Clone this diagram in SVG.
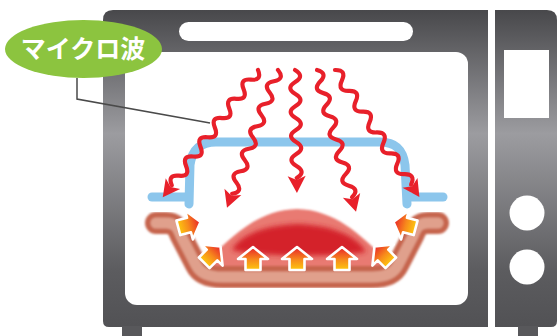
<svg xmlns="http://www.w3.org/2000/svg" xmlns:xlink="http://www.w3.org/1999/xlink" width="558" height="336" viewBox="0 0 558 336">
  <style>
    .body { fill: url(#metal); }
    .wave { fill: none; stroke: #e8202a; stroke-width: 4.2; stroke-linecap: round; stroke-linejoin: round; }
    .head { fill: #e8202a; }
    .lid { fill: none; stroke: #8cc6ec; stroke-width: 9; stroke-linecap: round; stroke-linejoin: round; }
    .heat { fill: url(#heatGrad); stroke: #fff; stroke-width: 2.6; stroke-linejoin: round; }
    .label { font-family: "Noto Sans CJK JP", "Noto Sans", sans-serif; font-size: 25px; font-weight: bold; fill: #fff; }
  </style>
  <defs>
    <linearGradient id="metal" gradientUnits="userSpaceOnUse" x1="0" y1="10" x2="0" y2="336">
      <stop offset="0" stop-color="#48484b"/>
      <stop offset="0.38" stop-color="#9c9ca0"/>
      <stop offset="0.8" stop-color="#5c5c5f"/>
      <stop offset="1" stop-color="#505053"/>
    </linearGradient>
    <linearGradient id="heatGrad" x1="0" y1="1" x2="0" y2="0">
      <stop offset="0" stop-color="#fdc80f"/>
      <stop offset="0.45" stop-color="#f7891c"/>
      <stop offset="1" stop-color="#e8202a"/>
    </linearGradient>
    <filter id="soft" x="-10%" y="-20%" width="120%" height="140%">
      <feGaussianBlur stdDeviation="1.2"/>
    </filter>
    <filter id="softer" x="-20%" y="-50%" width="140%" height="200%">
      <feGaussianBlur stdDeviation="2.5"/>
    </filter>
    <!-- block arrow pointing up, centred on the origin -->
    <polygon id="heatArrow" class="heat" points="0,-12 15,0 7.5,0 7.5,11 -7.5,11 -7.5,0 -15,0"/>
  </defs>

  <!-- oven cabinet -->
  <g id="oven">
    <path class="body" d="M113,10 H488 V327 H109 Q103,327 103,321 V20 Q103,10 113,10 Z"/>
    <rect x="122" y="326" width="20" height="10" fill="#58585b"/>
    <rect x="179" y="22" width="234" height="19" rx="9.5" fill="#fff"/>
    <rect x="125" y="52" width="343" height="253" rx="12" fill="#fff"/>
  </g>

  <!-- control panel -->
  <g id="panel">
    <path class="body" d="M495,10 H547 Q557,10 557,20 V321 Q557,327 551,327 H495 Z"/>
    <rect x="518" y="326" width="20" height="10" fill="#58585b"/>
    <rect x="504" y="50" width="45" height="68" fill="#fff"/>
    <circle cx="527" cy="213" r="17.5" fill="#fff"/>
    <circle cx="527" cy="267" r="17.5" fill="#fff"/>
  </g>

  <!-- food on the dish -->
  <g id="food">
    <path d="M198,270 C228,240 255,210 297,209 C339,210 366,240 396,270 Z" fill="#e97a72" filter="url(#soft)"/>
    <path d="M232,250 C240,234 268,225 297,224 C328,225 356,234 366,252 C338,257 260,257 232,250 Z" fill="#d42129" filter="url(#softer)"/>
  </g>

  <!-- dish -->
  <g id="dish" filter="url(#soft)">
    <path d="M156,223 H166 C176,223 178,229 181,236 L196,265 C200,273 208,277 222,277 H372 C386,277 394,273 398,265 L413,236 C416,229 418,223 428,223 H438" fill="none" stroke="#c6654e" stroke-width="22" stroke-linecap="round" stroke-linejoin="round"/>
    <path d="M156,223 H166 C176,223 178,229 181,236 L196,265 C200,273 208,277 222,277 H372 C386,277 394,273 398,265 L413,236 C416,229 418,223 428,223 H438" fill="none" stroke="#e0a08c" stroke-width="11" stroke-linecap="round" stroke-linejoin="round"/>
  </g>

  <!-- lid -->
  <g id="lid">
    <path class="lid" d="M152,197 H186"/>
    <path class="lid" d="M189,204 L190,165 C192,150 200,142 216,142 H380 C396,142 403,150 405,165 L407,204"/>
    <path class="lid" d="M408,197 H443"/>
  </g>

  <!-- label with leader -->
  <g id="label">
    <polyline points="77,78 77,99 210,123" fill="none" stroke="#4a4a4a" stroke-width="1.5"/>
    <ellipse cx="83.5" cy="49" rx="78.5" ry="29" fill="#8cc43f"/>
    <text class="label" x="83" y="58" text-anchor="middle">マイクロ波</text>
  </g>

  <!-- microwaves -->
  <g id="connectors">
    <g transform="translate(258,70) rotate(126.8)">
      <path class="wave" d="M0,0 q6,-10 12,0 t12,0 t12,0 t12,0 t12,0 t12,0 t12,0 t12,0 t12,0 t12,0 t12,0 t12,0"/>
      <polygon class="head" points="142,-9 159,0 142,9 146,0"/>
    </g>
    <g transform="translate(278,70) rotate(110.3)">
      <path class="wave" d="M0,0 q6,-10 12,0 t12,0 t12,0 t12,0 t12,0 t12,0 t12,0 t12,0 t12,0 t12,0 t12,0"/>
      <polygon class="head" points="130,-9 147,0 130,9 134,0"/>
    </g>
    <g transform="translate(295,70) rotate(89.1)">
      <path class="wave" d="M0,0 q6,-10 12,0 t12,0 t12,0 t12,0 t12,0 t12,0 t12,0 t12,0 t12,0"/>
      <polygon class="head" points="106,-9 123,0 106,9 110,0"/>
    </g>
    <g transform="translate(317,70) rotate(74.6)">
      <path class="wave" d="M0,0 q6,-10 12,0 t12,0 t12,0 t12,0 t12,0 t12,0 t12,0 t12,0 t12,0 t12,0 t12,0"/>
      <polygon class="head" points="130,-9 147,0 130,9 134,0"/>
    </g>
    <g transform="translate(335,70) rotate(56.4)">
      <path class="wave" d="M0,0 q6.25,-10 12.5,0 t12.5,0 t12.5,0 t12.5,0 t12.5,0 t12.5,0 t12.5,0 t12.5,0 t12.5,0 t12.5,0 t12.5,0"/>
      <polygon class="head" points="135.5,-9 152.5,0 135.5,9 139.5,0"/>
    </g>
  </g>

  <!-- heat arrows -->
  <g id="heat">
    <use xlink:href="#heatArrow" transform="translate(189,225) rotate(75)"/>
    <use xlink:href="#heatArrow" transform="translate(212,255) rotate(45)"/>
    <use xlink:href="#heatArrow" transform="translate(253,259)"/>
    <use xlink:href="#heatArrow" transform="translate(297,259)"/>
    <use xlink:href="#heatArrow" transform="translate(342,259)"/>
    <use xlink:href="#heatArrow" transform="translate(383,255) rotate(-45)"/>
    <use xlink:href="#heatArrow" transform="translate(405,225) rotate(-75)"/>
  </g>
</svg>
